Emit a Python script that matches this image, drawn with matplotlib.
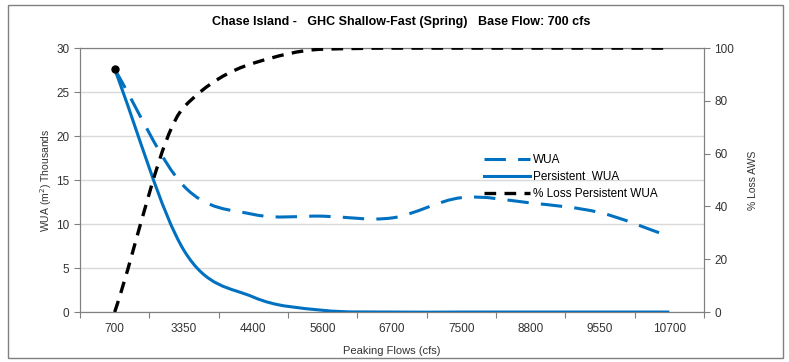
import numpy as np
import matplotlib
matplotlib.use("Agg")
import matplotlib.pyplot as plt
from matplotlib.path import Path
from matplotlib.patches import PathPatch, Rectangle
from matplotlib.lines import Line2D

plt.rcParams['font.family'] = ['Liberation Sans', 'DejaVu Sans']

# data
flows = ['700', '3350', '4400', '5600', '6700', '7500', '8800', '9550', '10700']
wua = [27.6, 14.3, 11.1, 10.9, 10.7, 13.0, 12.4, 11.3, 8.6]           # thousands m2
persistent_wua = [27.6, 7.0, 1.7, 0.2, 0.0, 0.0, 0.0, 0.0, 0.0]      # thousands m2
pct_loss = [0, 77.7, 94.3, 99.6, 100, 100, 100, 100, 100]            # %

blue = '#0070C0'


def smooth_path(x, y, mode='cr'):
    # smoothed line drawn as cubic Bezier segments through the data points
    x = np.asarray(x, float)
    y = np.asarray(y, float)
    n = len(x)
    d = np.diff(y) / np.diff(x)
    m = np.zeros(n)
    m[0], m[-1] = d[0], d[-1]
    for i in range(1, n - 1):
        if mode == 'cr':
            m[i] = (y[i + 1] - y[i - 1]) / (x[i + 1] - x[i - 1])
        elif d[i - 1] * d[i] > 0:
            m[i] = 2.0 / (1.0 / d[i - 1] + 1.0 / d[i])
    verts = [(x[0], y[0])]
    codes = [Path.MOVETO]
    for i in range(n - 1):
        h = (x[i + 1] - x[i]) / 3.0
        verts += [(x[i] + h, y[i] + m[i] * h),
                  (x[i + 1] - h, y[i + 1] - m[i + 1] * h),
                  (x[i + 1], y[i + 1])]
        codes += [Path.CURVE4] * 3
    return Path(verts, codes)


fig = plt.figure(figsize=(7.89, 3.62), dpi=100)
ax = fig.add_axes([0.1014, 0.138, 0.7909, 0.729])
ax2 = ax.twinx()

x = np.arange(len(flows))

ax.add_patch(PathPatch(smooth_path(x, wua), fill=False, edgecolor=blue, lw=2.2,
                       linestyle=(0, (7, 4)), capstyle='butt', zorder=3))
ax.add_patch(PathPatch(smooth_path(x, persistent_wua), fill=False, edgecolor=blue,
                       lw=2.2, zorder=3))
ax2.add_patch(PathPatch(smooth_path(x, pct_loss, 'mono'), fill=False, edgecolor='black',
                        lw=2.4, linestyle=(0, (3.5, 2.5)), capstyle='butt', zorder=3))
ax2.plot([x[0]], [wua[0] / 30 * 100], 'o', color='black', ms=5, zorder=4)

ax.set_xlim(-0.5, len(flows) - 0.5)
ax.set_ylim(0, 30)
ax2.set_ylim(0, 100)
ax.set_yticks(np.arange(0, 31, 5))
ax2.set_yticks(np.arange(0, 101, 20))

ax.set_xticks(np.arange(-0.5, len(flows)))
ax.set_xticklabels([])
ax.set_xticks(x, minor=True)
ax.set_xticklabels(flows, minor=True)
ax.tick_params(axis='x', which='minor', length=0, pad=8)
ax.tick_params(axis='x', which='major', length=4, color='#808080')

ax.grid(axis='y', color='#d9d9d9', lw=1)
ax.set_axisbelow(True)

for a in (ax, ax2):
    for s in a.spines.values():
        s.set_color('#808080')
    a.tick_params(axis='y', length=4, color='#808080', labelsize=8.5, labelcolor='#333333')
ax.tick_params(axis='x', which='both', labelsize=8.5, labelcolor='#333333')

ax.set_ylabel('WUA (m$^2$) Thousands', fontsize=7.5, color='#333333', labelpad=2)
ax2.set_ylabel('% Loss AWS', fontsize=7.5, color='#333333', labelpad=10)
ax.set_xlabel('Peaking Flows (cfs)', fontsize=8, color='#333333', labelpad=8)

fig.text(0.508, 0.94, 'Chase Island -   GHC Shallow-Fast (Spring)   Base Flow: 700 cfs',
         ha='center', va='center', fontsize=9, fontweight='bold')

handles = [Line2D([], [], color=blue, lw=2.2, linestyle=(0, (7, 4))),
           Line2D([], [], color=blue, lw=2.2),
           Line2D([], [], color='black', lw=2.4, linestyle=(0, (3.5, 2.5)))]
ax2.legend(handles, ['WUA', 'Persistent  WUA', '% Loss Persistent WUA'],
           loc='upper left', bbox_to_anchor=(0.63, 0.64), frameon=False,
           fontsize=8.5, handlelength=3.9, handletextpad=0.3, labelspacing=0.45)

fig.patches.append(Rectangle((0.01, 0.012), 0.982, 0.975, transform=fig.transFigure,
                             fill=False, edgecolor='#808080', lw=1))

fig.savefig('out.png', dpi=100)
